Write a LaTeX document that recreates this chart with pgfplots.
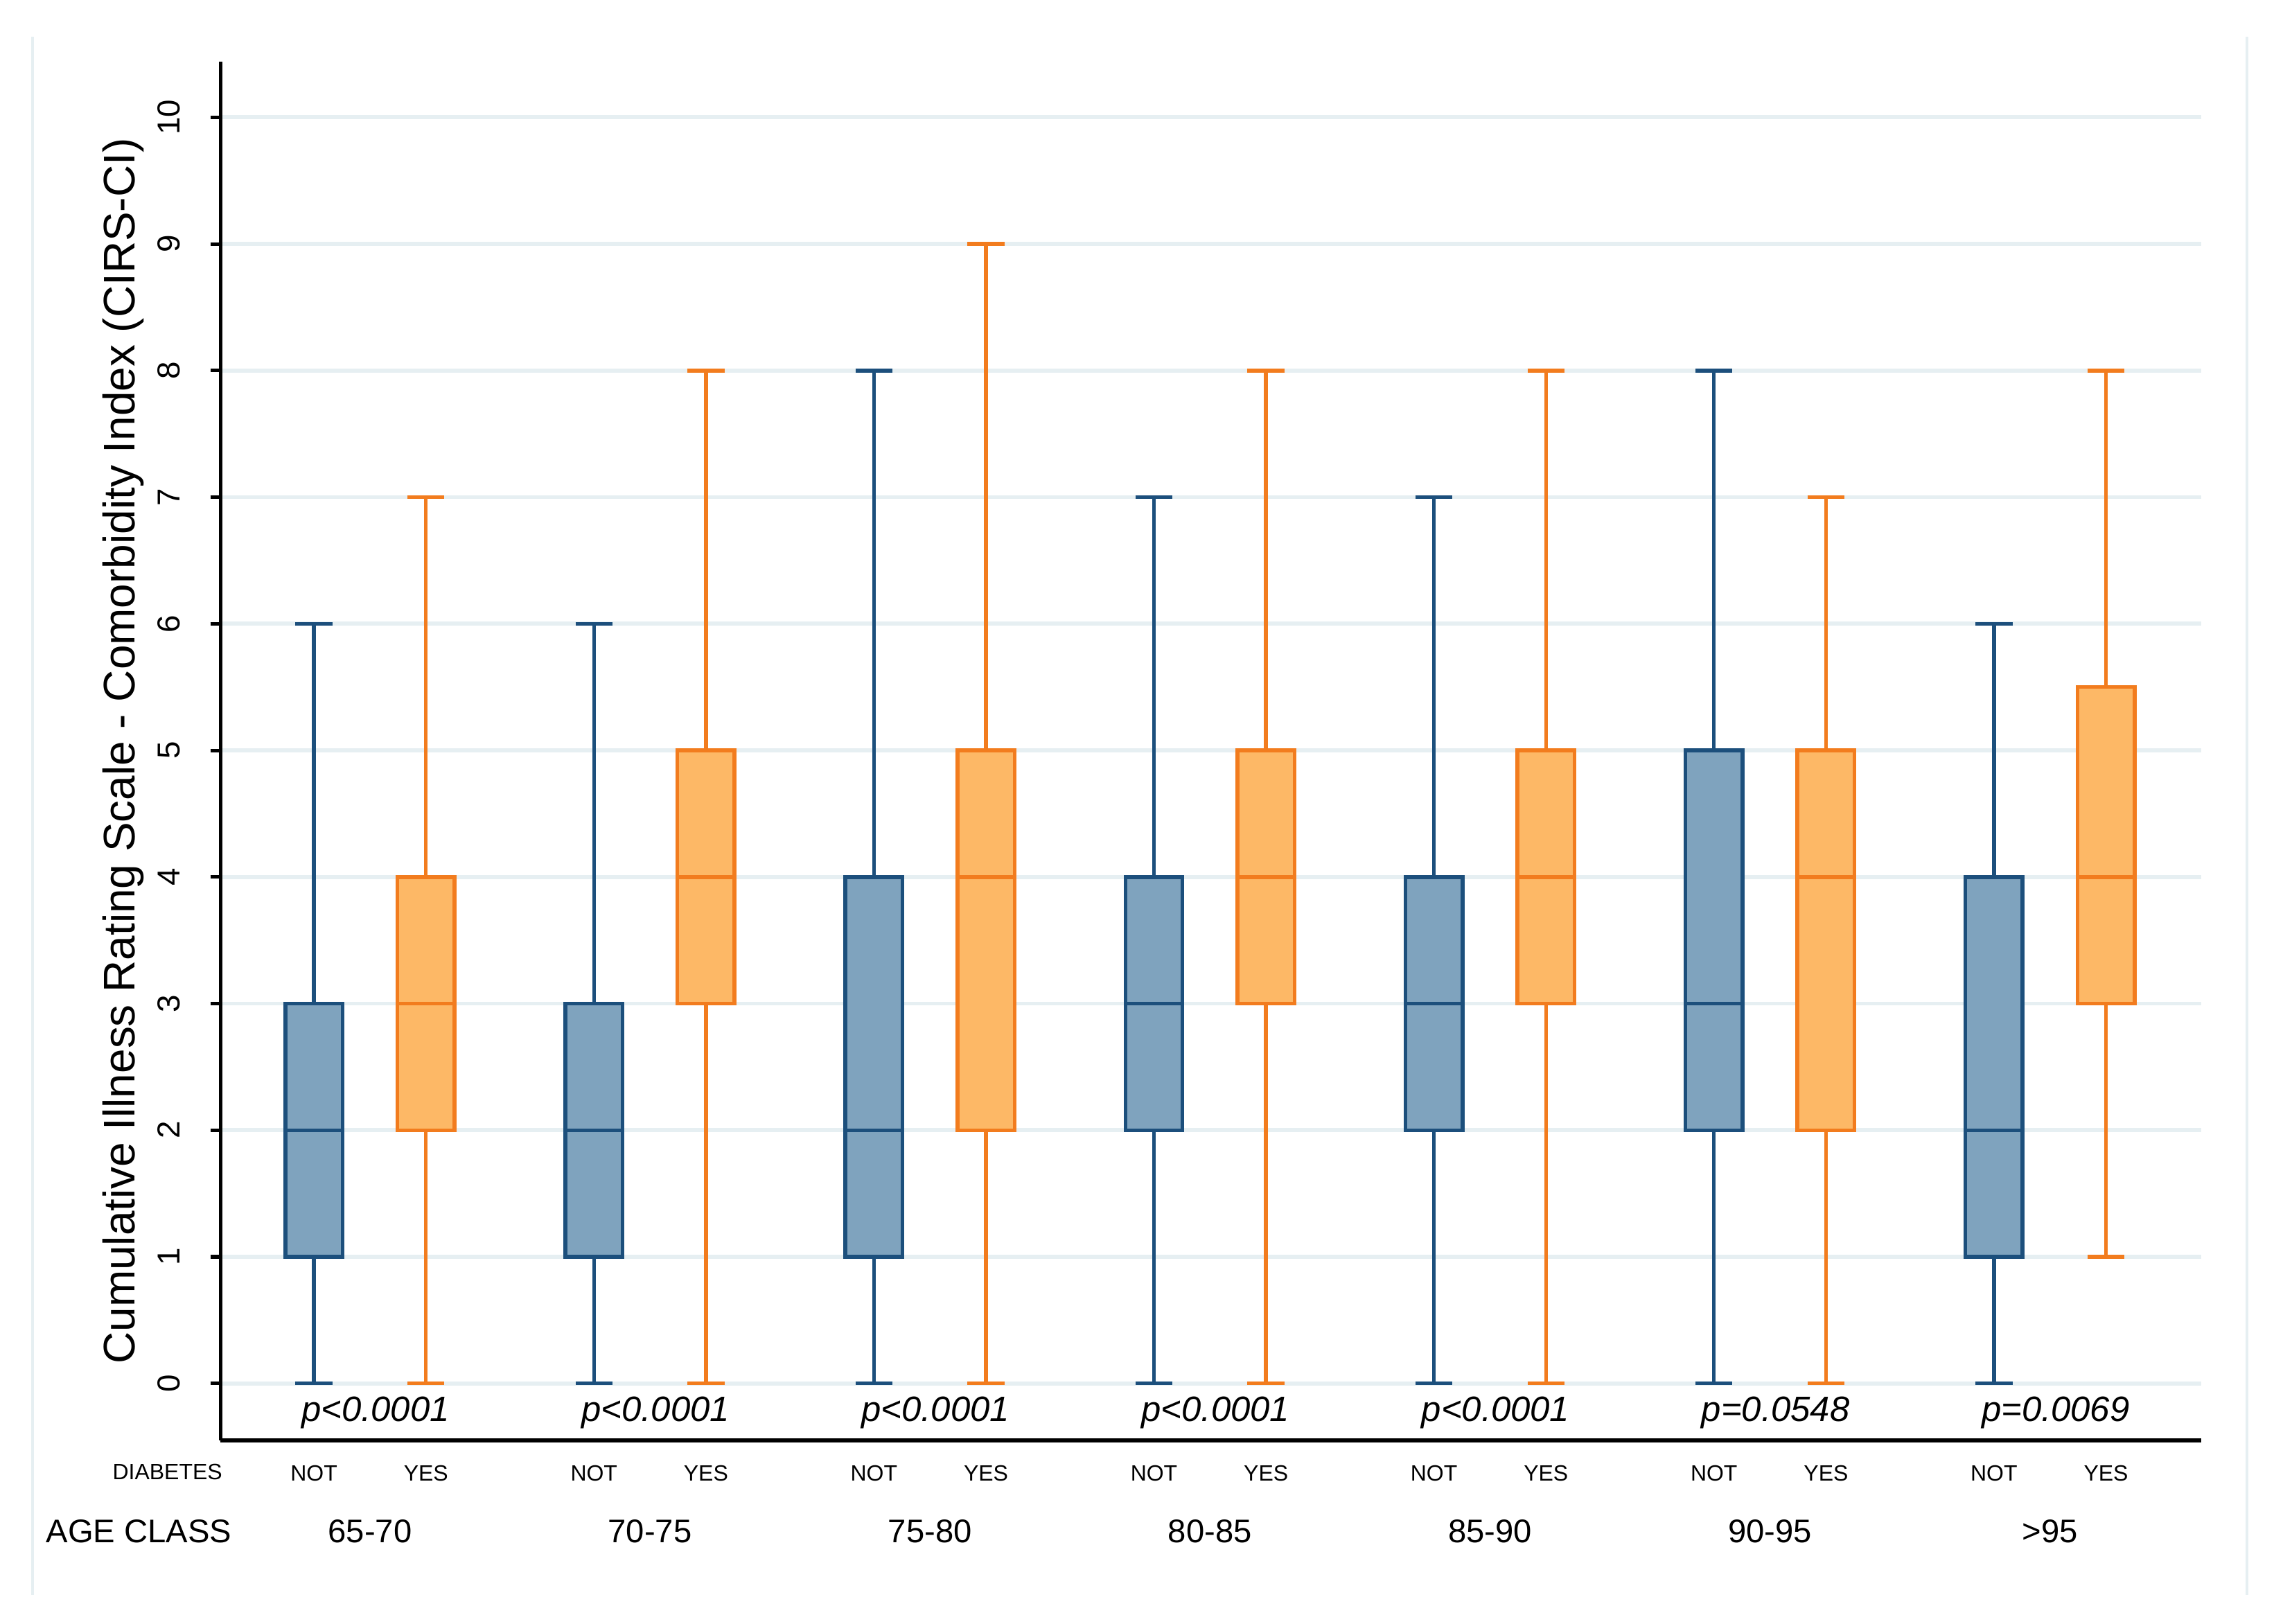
\documentclass[border=0pt]{standalone}
\usepackage{fontspec}
\setmainfont{Liberation Sans}
\usepackage{pgfplots}
\pgfplotsset{compat=1.18}
\usepgfplotslibrary{statistics}

\definecolor{notline}{HTML}{1C4F7C}
\definecolor{notfill}{HTML}{7FA3BE}
\definecolor{yesline}{HTML}{F27C1E}
\definecolor{yesfill}{HTML}{FDB866}
\definecolor{gridc}{HTML}{E6EFF2}

\newcommand{\fs}[1]{\fontsize{#1}{#1}\selectfont}

\pgfplotsset{
  notbox/.style={draw=notline, fill=notfill, line width=0.75pt, solid},
  yesbox/.style={draw=yesline, fill=yesfill, line width=0.75pt, solid},
}
\tikzset{
  pval/.style={font=\fs{7}\itshape},
  agecl/.style={font=\fs{6.5}, inner sep=0pt},
}

\begin{document}
\begin{tikzpicture}
\begin{axis}[
  scale only axis, width=13.83cm, height=9.627cm,
  xmin=-0.835, xmax=16.85, ymin=-0.45, ymax=10.44,
  axis x line=bottom, axis y line=left,
  axis line style={-, black},
  x axis line style={line width=0.9pt},
  y axis line style={line width=0.7pt},
  /pgf/number format/assume math mode=true,
  ytick={0,1,...,10},
  ytick style={black, line width=0.7pt},
  tick align=outside, major tick length=2pt,
  yticklabel style={font=\fs{6.3}, rotate=90, anchor=south},
  yticklabel shift=2.5pt,
  ymajorgrids, grid style={gridc, line width=0.8pt},
  xtick={0,1,2.5,3.5,5,6,7.5,8.5,10,11,12.5,13.5,15,16},
  xticklabels={NOT,YES,NOT,YES,NOT,YES,NOT,YES,NOT,YES,NOT,YES,NOT,YES},
  xtick style={draw=none},
  xticklabel style={font=\fs{4.4}, anchor=center, yshift=-4.6pt},
  ylabel={Cumulative Illness Rating Scale - Comorbidity Index (CIRS-CI)},
  ylabel style={font=\fs{8.8}, at={(rel axis cs:-0.0489,0.5)}, anchor=center},
  boxplot/draw direction=y,
  boxplot/box extend=0.51, boxplot/whisker extend=0.33,
  clip=false,
]
% 65-70
\addplot[notbox, boxplot prepared={draw position=0, lower whisker=0, lower quartile=1, median=2, upper quartile=3, upper whisker=6}] coordinates {};
\addplot[yesbox, boxplot prepared={draw position=1, lower whisker=0, lower quartile=2, median=3, upper quartile=4, upper whisker=7}] coordinates {};
% 70-75
\addplot[notbox, boxplot prepared={draw position=2.5, lower whisker=0, lower quartile=1, median=2, upper quartile=3, upper whisker=6}] coordinates {};
\addplot[yesbox, boxplot prepared={draw position=3.5, lower whisker=0, lower quartile=3, median=4, upper quartile=5, upper whisker=8}] coordinates {};
% 75-80
\addplot[notbox, boxplot prepared={draw position=5, lower whisker=0, lower quartile=1, median=2, upper quartile=4, upper whisker=8}] coordinates {};
\addplot[yesbox, boxplot prepared={draw position=6, lower whisker=0, lower quartile=2, median=4, upper quartile=5, upper whisker=9}] coordinates {};
% 80-85
\addplot[notbox, boxplot prepared={draw position=7.5, lower whisker=0, lower quartile=2, median=3, upper quartile=4, upper whisker=7}] coordinates {};
\addplot[yesbox, boxplot prepared={draw position=8.5, lower whisker=0, lower quartile=3, median=4, upper quartile=5, upper whisker=8}] coordinates {};
% 85-90
\addplot[notbox, boxplot prepared={draw position=10, lower whisker=0, lower quartile=2, median=3, upper quartile=4, upper whisker=7}] coordinates {};
\addplot[yesbox, boxplot prepared={draw position=11, lower whisker=0, lower quartile=3, median=4, upper quartile=5, upper whisker=8}] coordinates {};
% 90-95
\addplot[notbox, boxplot prepared={draw position=12.5, lower whisker=0, lower quartile=2, median=3, upper quartile=5, upper whisker=8}] coordinates {};
\addplot[yesbox, boxplot prepared={draw position=13.5, lower whisker=0, lower quartile=2, median=4, upper quartile=5, upper whisker=7}] coordinates {};
% >95
\addplot[notbox, boxplot prepared={draw position=15, lower whisker=0, lower quartile=1, median=2, upper quartile=4, upper whisker=6}] coordinates {};
\addplot[yesbox, boxplot prepared={draw position=16, lower whisker=1, lower quartile=3, median=4, upper quartile=5.5, upper whisker=8}] coordinates {};

% p-values
\node[pval] at (axis cs:0.55,-0.23) {p<0.0001};
\node[pval] at (axis cs:3.05,-0.23) {p<0.0001};
\node[pval] at (axis cs:5.55,-0.23) {p<0.0001};
\node[pval] at (axis cs:8.05,-0.23) {p<0.0001};
\node[pval] at (axis cs:10.55,-0.23) {p<0.0001};
\node[pval] at (axis cs:13.05,-0.23) {p=0.0548};
\node[pval] at (axis cs:15.55,-0.23) {p=0.0069};

% group labels
\node[font=\fs{4.4}, inner sep=0pt, anchor=east] at (axis cs:-0.81,-0.70) {DIABETES};
\node[agecl, anchor=west] at (axis cs:-2.40,-1.17) {AGE CLASS};
\node[agecl] at (axis cs:0.5,-1.17) {65-70};
\node[agecl] at (axis cs:3,-1.17) {70-75};
\node[agecl] at (axis cs:5.5,-1.17) {75-80};
\node[agecl] at (axis cs:8,-1.17) {80-85};
\node[agecl] at (axis cs:10.5,-1.17) {85-90};
\node[agecl] at (axis cs:13,-1.17) {90-95};
\node[agecl] at (axis cs:15.5,-1.17) {>95};

% outer frame of the graph region
\draw[gridc, line width=0.6pt] (rel axis cs:-0.0949,1.0181) -- (rel axis cs:-0.0949,-0.1119);
\draw[gridc, line width=0.6pt] (rel axis cs:1.023,1.0181) -- (rel axis cs:1.023,-0.1119);
\path (rel axis cs:-0.11128,-0.13291) rectangle (rel axis cs:1.04584,1.04472);
\end{axis}
\end{tikzpicture}
\end{document}
